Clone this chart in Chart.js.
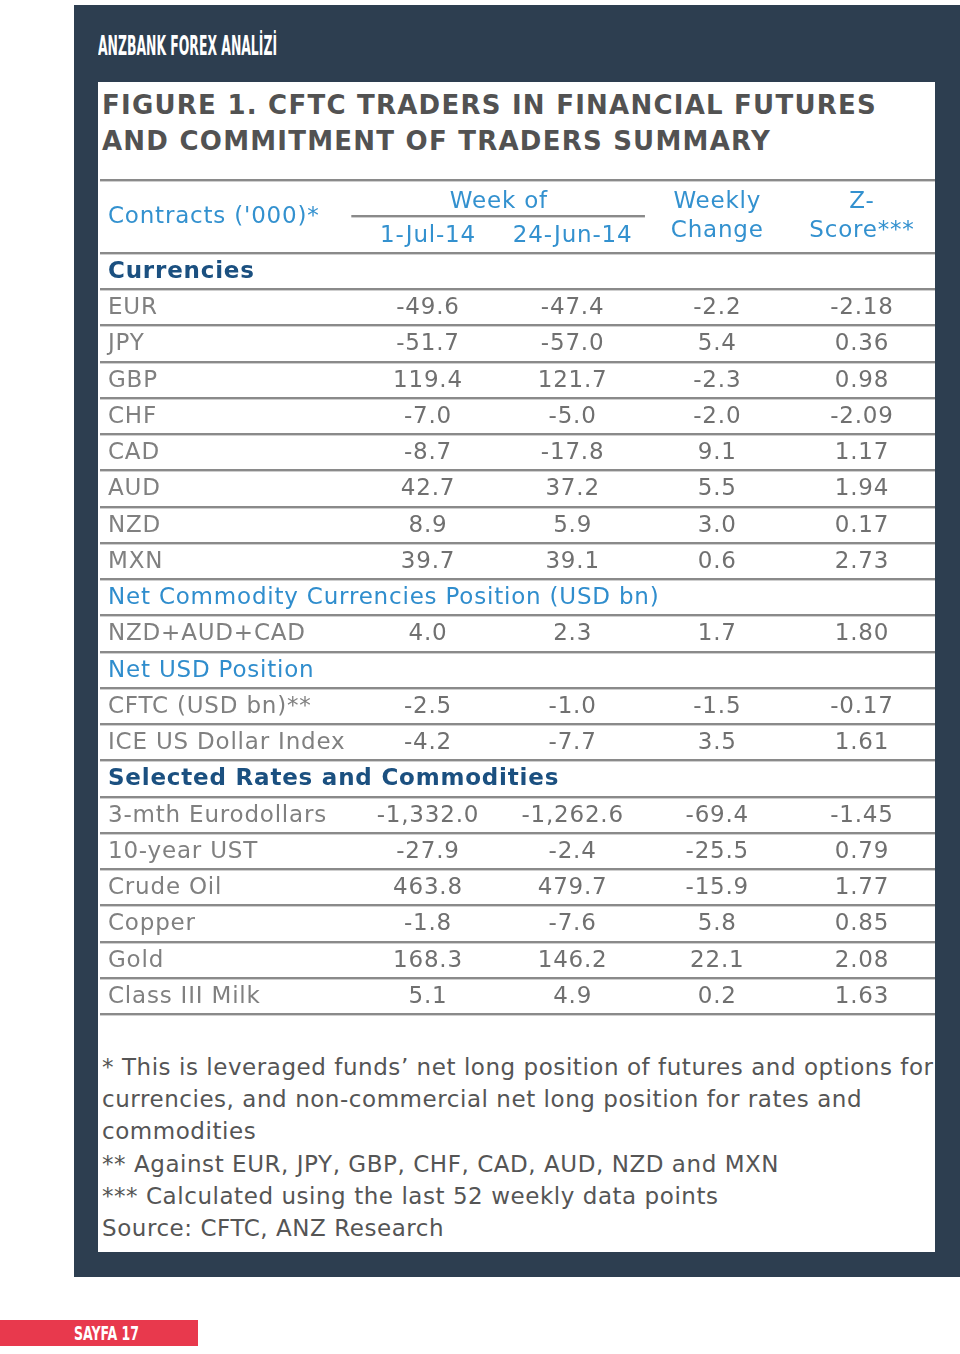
<!DOCTYPE html>
<html>
<head>
<meta charset="utf-8">
<script src="https://cdn.jsdelivr.net/npm/chart.js@4.4.1/dist/chart.umd.min.js"></script>
<style>
    html, body { margin: 0; padding: 0; background: #fff; }
    body { width: 960px; height: 1354px; position: relative; overflow: hidden; }
    .panel { position: absolute; left: 74px; top: 5px; width: 886px; height: 1272px; background: #2d3e50; }
    .brand { position: absolute; left: 98px; top: 30px; color: #fff; font: bold 26px "DejaVu Sans Condensed", "DejaVu Sans", sans-serif; font-stretch: condensed; line-height: 32px; white-space: nowrap; transform-origin: left center; }
    .sheet { position: absolute; left: 98px; top: 82px; width: 837px; height: 1170px; background: #fff; overflow: hidden; }
    .title { position: absolute; left: 4px; top: 5px; color: #525252; font: bold 26px "DejaVu Sans", sans-serif; line-height: 36px; white-space: nowrap; }
    .notes { position: absolute; left: 4px; top: 969px; color: #555; font: 23px "DejaVu Sans", sans-serif; letter-spacing: 0.55px; line-height: 32.2px; white-space: nowrap; }
    #table-wrap { position: absolute; left: 0; top: 88px; width: 837px; height: 860px; }
    .page-tag { position: absolute; left: 0; top: 1320px; width: 198px; height: 26px; background: #e8394d; }
    .page-tag span { position: absolute; left: 74px; top: 0; color: #fff; font: bold 20px "DejaVu Sans Condensed", "DejaVu Sans", sans-serif; font-stretch: condensed; line-height: 27px; white-space: nowrap; transform-origin: left center; }
</style>
</head>
<body>
<div class="panel"></div>
<div class="brand" id="brand">ANZBANK FOREX ANALİZİ</div>
<div class="sheet">
    <div class="title"><div id="title1">FIGURE 1. CFTC TRADERS IN FINANCIAL FUTURES</div><div id="title2">AND COMMITMENT OF TRADERS SUMMARY</div></div>
    <div id="table-wrap"><canvas id="cot-table" width="837" height="860"></canvas></div>
    <div class="notes" id="notes"></div>
</div>
<div class="page-tag"><span id="page-no">SAYFA 17</span></div>

<script>
// Satırlar (yukarıdan aşağı)
const rowLabels = [
    'Currencies', 'EUR', 'JPY', 'GBP', 'CHF', 'CAD', 'AUD', 'NZD', 'MXN',
    'Net Commodity Currencies Position (USD bn)', 'NZD+AUD+CAD',
    'Net USD Position', 'CFTC (USD bn)**', 'ICE US Dollar Index',
    'Selected Rates and Commodities', '3-mth Eurodollars', '10-year UST',
    'Crude Oil', 'Copper', 'Gold', 'Class III Milk'
];
const majorSections = ['Currencies', 'Selected Rates and Commodities'];
const minorSections = ['Net Commodity Currencies Position (USD bn)', 'Net USD Position'];

const week1Jul = [null, -49.6, -51.7, 119.4, -7.0, -8.7, 42.7, 8.9, 39.7, null, 4.0, null, -2.5, -4.2, null, -1332.0, -27.9, 463.8, -1.8, 168.3, 5.1];
const week24Jun = [null, -47.4, -57.0, 121.7, -5.0, -17.8, 37.2, 5.9, 39.1, null, 2.3, null, -1.0, -7.7, null, -1262.6, -2.4, 479.7, -7.6, 146.2, 4.9];
const weeklyChange = [null, -2.2, 5.4, -2.3, -2.0, 9.1, 5.5, 3.0, 0.6, null, 1.7, null, -1.5, 3.5, null, -69.4, -25.5, -15.9, 5.8, 22.1, 0.2];
const zScore = [null, -2.18, 0.36, 0.98, -2.09, 1.17, 1.94, 0.17, 2.73, null, 1.80, null, -0.17, 1.61, null, -1.45, 0.79, 1.77, 0.85, 2.08, 1.63];
const columnDecimals = [1, 1, 1, 2];

const stubHeader = "Contracts ('000)*";
const groupHeader = 'Week of';
const columnHeaders = [['1-Jul-14'], ['24-Jun-14'], ['Weekly', 'Change'], ['Z-', 'Score***']];

const footnotes = [
    "* This is leveraged funds\u2019 net long position of futures and options for",
    "currencies, and non-commercial net long position for rates and",
    "commodities",
    "** Against EUR, JPY, GBP, CHF, CAD, AUD, NZD and MXN",
    "*** Calculated using the last 52 weekly data points",
    "Source: CFTC, ANZ Research"
];

const FONT = '"DejaVu Sans", sans-serif';

function formatValue(v, decimals) {
    return v.toLocaleString('en-US', { minimumFractionDigits: decimals, maximumFractionDigits: decimals });
}

function fitWidth(el, target) {
    const w = el.getBoundingClientRect().width;
    el.style.transform = `scaleX(${target / w})`;
}

function fitSpacing(el, target) {
    const text = el.textContent;
    const range = document.createRange();
    range.selectNodeContents(el);
    const w = range.getBoundingClientRect().width;
    el.style.letterSpacing = ((target - w) / text.length) + 'px';
}

document.addEventListener('DOMContentLoaded', () => {
    document.getElementById('notes').innerHTML = footnotes.map(t => `<div>${t}</div>`).join('');
    fitWidth(document.getElementById('brand'), 179);
    fitWidth(document.getElementById('page-no'), 65);
    fitSpacing(document.getElementById('title1'), 775);
    document.getElementById('title2').style.letterSpacing = document.getElementById('title1').style.letterSpacing;
    drawTable();
});

function drawLine(ctx, x0, x1, y) {
    const yy = Math.round(y);
    ctx.fillStyle = '#8a8a8a';
    ctx.fillRect(x0, yy - 1, x1 - x0, 2);
    ctx.fillStyle = '#cfcfcf';
    ctx.fillRect(x0, yy + 1, x1 - x0, 1);
}

// Tablonun metinleri ve çizgileri, grafiğin kendi ölçekleri üzerinden
const tablePlugin = {
    id: 'tableText',
    afterDatasetsDraw(chart) {
        const ctx = chart.ctx;
        const xs = chart.scales.x;
        const ys = chart.scales.y;
        const area = chart.chartArea;
        const left = area.left + 2;
        const right = area.right;

        ctx.save();
        ctx.letterSpacing = '0.8px';
        ctx.textBaseline = 'middle';

        // Yatay çizgiler
        drawLine(ctx, left, right, ys.getPixelForValue(-2.5));
        for (let r = -1; r < rowLabels.length; r++) {
            drawLine(ctx, left, right, ys.getPixelForValue(r + 0.5));
        }
        drawLine(ctx, xs.getPixelForValue(0.47), xs.getPixelForValue(2.5), ys.getPixelForValue(-1.52));

        // Başlık satırı
        ctx.fillStyle = '#3391cf';
        ctx.font = '23px ' + FONT;
        ctx.textAlign = 'left';
        ctx.fillText(stubHeader, area.left + 10, ys.getPixelForValue(-1.49));
        ctx.textAlign = 'center';
        ctx.fillText(groupHeader, xs.getPixelForValue(1.49), ys.getPixelForValue(-1.9));
        columnHeaders.forEach((lines, c) => {
            const x = xs.getPixelForValue(c + 1);
            if (lines.length === 1) {
                ctx.fillText(lines[0], x, ys.getPixelForValue(-0.97));
            } else {
                ctx.fillText(lines[0], x, ys.getPixelForValue(-1.9));
                ctx.fillText(lines[1], x, ys.getPixelForValue(-1.1));
            }
        });

        // Satır etiketleri
        ctx.textAlign = 'left';
        rowLabels.forEach((label, r) => {
            const y = ys.getPixelForValue(r);
            if (majorSections.includes(label)) {
                ctx.font = 'bold 23px ' + FONT;
                ctx.fillStyle = '#1b5080';
            } else if (minorSections.includes(label)) {
                ctx.font = '23px ' + FONT;
                ctx.fillStyle = '#2f8dcd';
            } else {
                ctx.font = '23px ' + FONT;
                ctx.fillStyle = '#808080';
            }
            ctx.fillText(label, area.left + 10, y + 1);
        });

        // Hücre değerleri
        ctx.font = '23px ' + FONT;
        ctx.fillStyle = '#707070';
        ctx.textAlign = 'center';
        chart.data.datasets.forEach((ds, d) => {
            const meta = chart.getDatasetMeta(d);
            meta.data.forEach((pt, i) => {
                ctx.fillText(ds.data[i].text, pt.x, pt.y + 1);
            });
        });
        ctx.restore();
    }
};

function drawTable() {
    const columns = [week1Jul, week24Jun, weeklyChange, zScore];
    const datasets = columns.map((values, c) => ({
        label: columnHeaders[c].join(' '),
        data: values
            .map((v, r) => v === null ? null : { x: c + 1, y: r, text: formatValue(v, columnDecimals[c]) })
            .filter(p => p !== null),
        pointRadius: 0,
        pointHoverRadius: 0
    }));

    const ctx = document.getElementById('cot-table').getContext('2d');
    new Chart(ctx, {
        type: 'scatter',
        data: { datasets: datasets },
        options: {
            responsive: false,
            animation: false,
            devicePixelRatio: 1,
            events: [],
            layout: { padding: 0 },
            plugins: {
                legend: { display: false },
                tooltip: { enabled: false },
                title: { display: false }
            },
            scales: {
                x: { type: 'linear', display: false, min: -1.281, max: 4.505 },
                y: { type: 'linear', display: false, reverse: true, min: -2.786, max: 20.938 }
            }
        },
        plugins: [tablePlugin]
    });
}
</script>
</body>
</html>
